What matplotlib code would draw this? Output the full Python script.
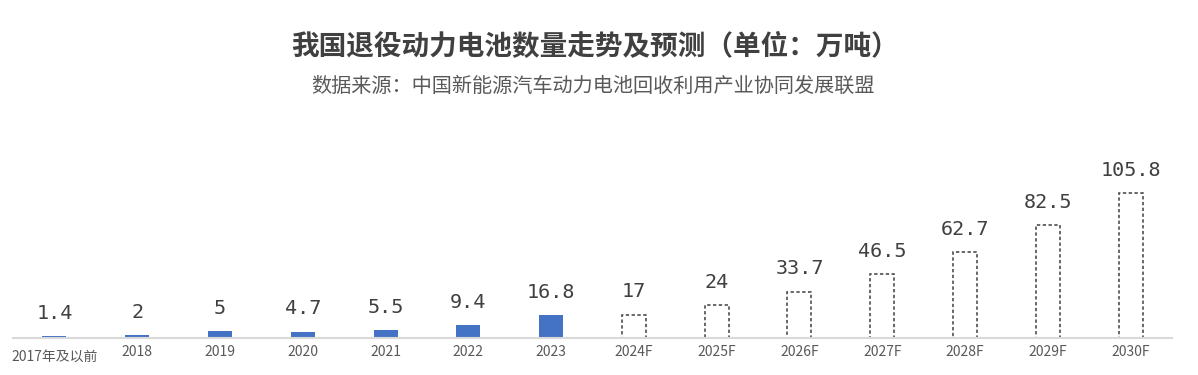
import matplotlib.pyplot as plt

plt.rcParams['font.family'] = ['Noto Sans CJK SC', 'DejaVu Sans']

# 数据 (万吨)
years = ['2017年及以前', '2018', '2019', '2020', '2021', '2022', '2023',
         '2024F', '2025F', '2026F', '2027F', '2028F', '2029F', '2030F']
values = [1.4, 2, 5, 4.7, 5.5, 9.4, 16.8, 17, 24, 33.7, 46.5, 62.7, 82.5, 105.8]
labels = ['1.4', '2', '5', '4.7', '5.5', '9.4', '16.8', '17', '24', '33.7',
          '46.5', '62.7', '82.5', '105.8']
n_actual = 7

fig = plt.figure(figsize=(11.98, 3.75), dpi=100)
ax = fig.add_axes([13 / 1198, 37 / 375, 1159 / 1198, 250 / 375])

x = list(range(len(years)))
ax.bar(x[:n_actual], values[:n_actual], width=0.29, color='#4472C4', zorder=2)
ax.bar(x[n_actual:], values[n_actual:], width=0.29, facecolor='white',
       edgecolor='#404040', linestyle=(0, (2.2, 1.6)), linewidth=1.1, zorder=2)

for xi, v, lab in zip(x, values, labels):
    ax.annotate(lab, (xi, v), xytext=(0, 16.5), textcoords='offset points',
                ha='center', va='center', fontsize=14.5,
                family='DejaVu Sans Mono', color='#404040')

ax.set_xlim(-0.5, 13.5)
ax.set_ylim(0, 250 * 105.8 / 145)
ax.set_xticks(x)
ax.set_xticklabels(years, fontsize=10, color='#595959')
ax.tick_params(axis='x', length=0, pad=5)
ax.get_xticklabels()[0].set_y(-0.022)
ax.set_yticks([])
for s in ['top', 'right', 'left']:
    ax.spines[s].set_visible(False)
ax.spines['bottom'].set_color('#d9d9d9')
ax.spines['bottom'].set_linewidth(1.5)
ax.spines['bottom'].set_zorder(3)

fig.text(595 / 1198, 1 - 47 / 375, '我国退役动力电池数量走势及预测（单位：万吨）',
         ha='center', va='center', fontsize=19.9, fontweight='bold', color='#404040')
fig.text(593 / 1198, 1 - 86 / 375, '数据来源：中国新能源汽车动力电池回收利用产业协同发展联盟',
         ha='center', va='center', fontsize=14.5, color='#595959')

fig.savefig('out.png', dpi=100)
